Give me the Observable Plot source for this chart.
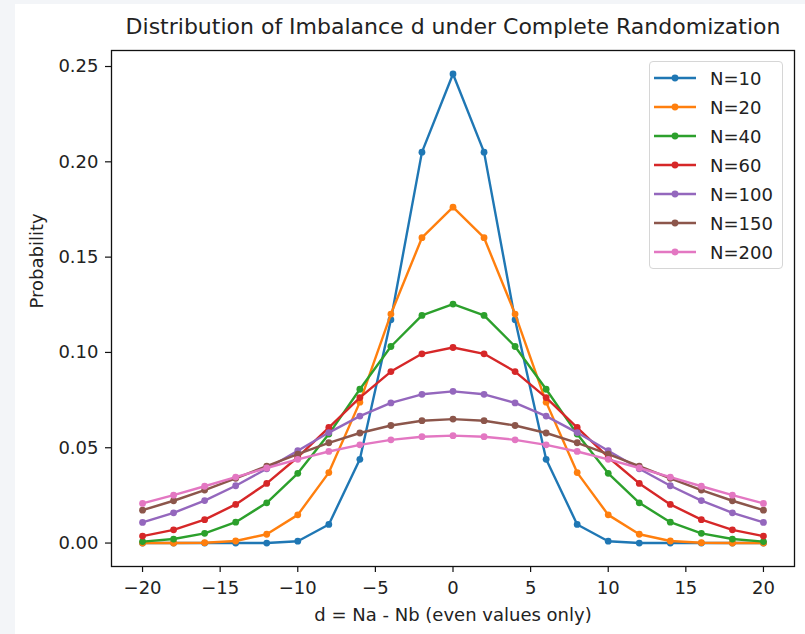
<!DOCTYPE html>
<html>
<head>
<meta charset="utf-8">
<script src="https://cdn.jsdelivr.net/npm/d3@7"></script>
<script src="https://cdn.jsdelivr.net/npm/@observablehq/plot@0.6"></script>
<style>
  html, body { margin: 0; padding: 0; }
  body { width: 805px; height: 634px; background: #f3f5f8; position: relative; overflow: hidden; font-family: "DejaVu Sans", sans-serif; }
  #page { position: absolute; left: 15px; top: 4px; width: 790px; height: 630px; background: #fff; }
  #chart svg { display: block; }
  #legend { position: absolute; left: 634px; top: 57px; width: 134px; height: 208px; box-sizing: border-box;
    border: 1px solid #d6d6d6; border-radius: 4px; background: rgba(255,255,255,0.85); }
  .entry { position: absolute; left: 0; height: 24px; display: flex; align-items: center; }
  .entry span { font-size: 18px; color: #222; margin-left: 14px; white-space: nowrap; }
  .entry svg { margin-left: 4px; }
</style>
</head>
<body>
<div id="page">
  <div id="chart"></div>
  <div id="legend"></div>
</div>
<script>
const dValues = [-20,-18,-16,-14,-12,-10,-8,-6,-4,-2,0,2,4,6,8,10,12,14,16,18,20];
const seriesLabels = ["N=10","N=20","N=40","N=60","N=100","N=150","N=200"];
const seriesColors = ["#1f77b4","#ff7f0e","#2ca02c","#d62728","#9467bd","#8c564b","#e377c2"];
const pN10  = [0,0,0,0,0,0.00098,0.00977,0.04395,0.11719,0.20508,0.24609,0.20508,0.11719,0.04395,0.00977,0.00098,0,0,0,0,0];
const pN20  = [0.000001,0.000019,0.00018,0.00109,0.00462,0.01479,0.03696,0.07393,0.12013,0.16018,0.17620,0.16018,0.12013,0.07393,0.03696,0.01479,0.00462,0.00109,0.00018,0.000019,0.000001];
const pN40  = [0.00077,0.00210,0.00508,0.01094,0.02111,0.03659,0.05717,0.08070,0.10312,0.11940,0.12537,0.11940,0.10312,0.08070,0.05717,0.03659,0.02111,0.01094,0.00508,0.00210,0.00077];
const pN60  = [0.00364,0.00693,0.01228,0.02028,0.03127,0.04503,0.06061,0.07633,0.08996,0.09927,0.10258,0.09927,0.08996,0.07633,0.06061,0.04503,0.03127,0.02028,0.01228,0.00693,0.00364];
const pN100 = [0.01084,0.01587,0.02229,0.03007,0.03895,0.04847,0.05796,0.06659,0.07353,0.07803,0.07959,0.07803,0.07353,0.06659,0.05796,0.04847,0.03895,0.03007,0.02229,0.01587,0.01084];
const pN150 = [0.01723,0.02219,0.02782,0.03395,0.04035,0.04669,0.05261,0.05773,0.06168,0.06418,0.06504,0.06418,0.06168,0.05773,0.05261,0.04669,0.04035,0.03395,0.02782,0.02219,0.01723];
const pN200 = [0.02080,0.02514,0.02979,0.03459,0.03937,0.04393,0.04805,0.05152,0.05415,0.05579,0.05635,0.05579,0.05415,0.05152,0.04805,0.04393,0.03937,0.03459,0.02979,0.02514,0.02080];
const xTicks = [-20,-15,-10,-5,0,5,10,15,20];
const yTicks = [0,0.05,0.10,0.15,0.20,0.25];
const titleText = "Distribution of Imbalance d under Complete Randomization";
const xLabel = "d = Na - Nb (even values only)";
const yLabel = "Probability";

const seriesValues = [pN10,pN20,pN40,pN60,pN100,pN150,pN200];
const tables = seriesValues.map((vals, i) => dValues.map((d, j) => ({d, p: vals[j], s: seriesLabels[i]})));

const textColor = "#222";
const marks = [];
tables.forEach((rows, i) => {
  marks.push(Plot.line(rows, {x: "d", y: "p", stroke: seriesColors[i], strokeWidth: 2.4}));
  marks.push(Plot.dot(rows, {x: "d", y: "p", r: 3.4, fill: seriesColors[i], stroke: "none"}));
});

const chart = Plot.plot({
  width: 790,
  height: 630,
  marginLeft: 96,
  marginRight: 11,
  marginTop: 46,
  marginBottom: 68,
  style: {fontFamily: "DejaVu Sans, sans-serif", color: textColor, background: "transparent", overflow: "visible"},
  x: {domain: [-22, 22]},
  y: {domain: [-0.0123, 0.2584]},
  marks: [
    ...marks,
    Plot.frame({stroke: "#111", strokeWidth: 1.3}),
    Plot.axisX({ticks: xTicks, tickSize: 6, tickPadding: 9, fontSize: 18, label: null, stroke: "#111", strokeWidth: 1.2, fill: textColor}),
    Plot.axisY({ticks: yTicks, tickFormat: d3.format(".2f"), tickSize: 6, tickPadding: 7, fontSize: 18, label: null, stroke: "#111", strokeWidth: 1.2, fill: textColor}),
    Plot.text([titleText], {frameAnchor: "top", dy: -24, fontSize: 22, fill: textColor, lineAnchor: "middle"}),
    Plot.text([xLabel], {frameAnchor: "bottom", dy: 49, fontSize: 18, fill: textColor, lineAnchor: "middle"}),
    Plot.text([yLabel], {frameAnchor: "left", dx: -74, rotate: -90, fontSize: 18, fill: textColor, lineAnchor: "middle"})
  ]
});
document.getElementById("chart").appendChild(chart);

const legend = document.getElementById("legend");
seriesLabels.forEach((lab, i) => {
  const e = document.createElement("div");
  e.className = "entry";
  e.style.top = (4 + i * 29) + "px";
  const ns = "http://www.w3.org/2000/svg";
  const s = document.createElementNS(ns, "svg");
  s.setAttribute("width", "42"); s.setAttribute("height", "12");
  const ln = document.createElementNS(ns, "line");
  ln.setAttribute("x1", "0"); ln.setAttribute("x2", "42"); ln.setAttribute("y1", "6"); ln.setAttribute("y2", "6");
  ln.setAttribute("stroke", seriesColors[i]); ln.setAttribute("stroke-width", "2.4");
  const c = document.createElementNS(ns, "circle");
  c.setAttribute("cx", "21"); c.setAttribute("cy", "6"); c.setAttribute("r", "3.4"); c.setAttribute("fill", seriesColors[i]);
  s.appendChild(ln); s.appendChild(c);
  const t = document.createElement("span");
  t.textContent = lab;
  e.appendChild(s); e.appendChild(t);
  legend.appendChild(e);
});
</script>
</body>
</html>
